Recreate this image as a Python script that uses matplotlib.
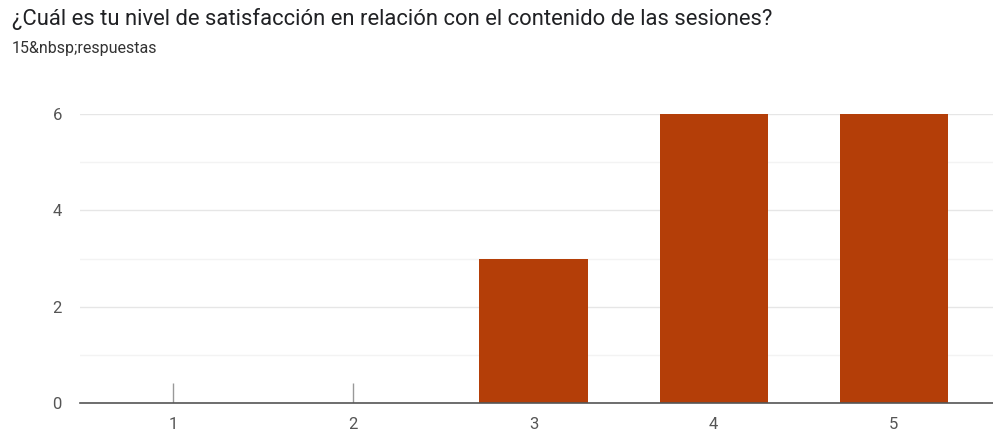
import matplotlib
matplotlib.use("Agg")
import matplotlib.pyplot as plt

categories = [1, 2, 3, 4, 5]
values = [0, 0, 3, 6, 6]
yticks = [0, 2, 4, 6]
title = "¿Cuál es tu nivel de satisfacción en relación con el contenido de las sesiones?"
subtitle = "15&nbsp;respuestas"

plt.rcParams['font.family'] = ['Roboto', 'DejaVu Sans']

fig = plt.figure(figsize=(9.93, 4.36), dpi=100)
ax = fig.add_axes([80/993, (436-403)/436, 1 - 80/993, (403-114)/436])

bar_color = '#B43E08'
nonzero = [(c, v) for c, v in zip(categories, values) if v > 0]
ax.bar([c for c, v in nonzero], [v for c, v in nonzero], width=0.6, color=bar_color, zorder=3)
zero_cats = [c for c, v in zip(categories, values) if v == 0]
ax.vlines(zero_cats, 0, 0.42, color='#999999', linewidth=1, zorder=3)

ax.set_xlim(0.483, 5.55)
ax.set_ylim(0, 6)
ax.set_yticks(yticks)
ax.set_yticks([1, 3, 5], minor=True)
ax.set_xticks(categories)
ax.set_xticklabels([str(c) for c in categories])
ax.grid(axis='y', which='major', color='#e6e6e6', linewidth=1, zorder=0)
ax.grid(axis='y', which='minor', color='#f3f3f3', linewidth=1, zorder=0)
ax.tick_params(axis='both', which='both', length=0, labelsize=12, labelcolor='#555555')
ax.tick_params(axis='y', pad=13)
ax.tick_params(axis='x', pad=10)
for s in ['top', 'right', 'left']:
    ax.spines[s].set_visible(False)
ax.spines['bottom'].set_color('#555555')
ax.spines['bottom'].set_linewidth(1.2)
ax.spines['bottom'].set_zorder(4)

fig.text(12/993, 1 - 19/436, title, fontsize=15.8, color='#202124', va='center', ha='left')
fig.text(12/993, 1 - 49/436, subtitle, fontsize=11.5, color='#333333', va='center', ha='left')

fig.savefig('out.png', dpi=100)
